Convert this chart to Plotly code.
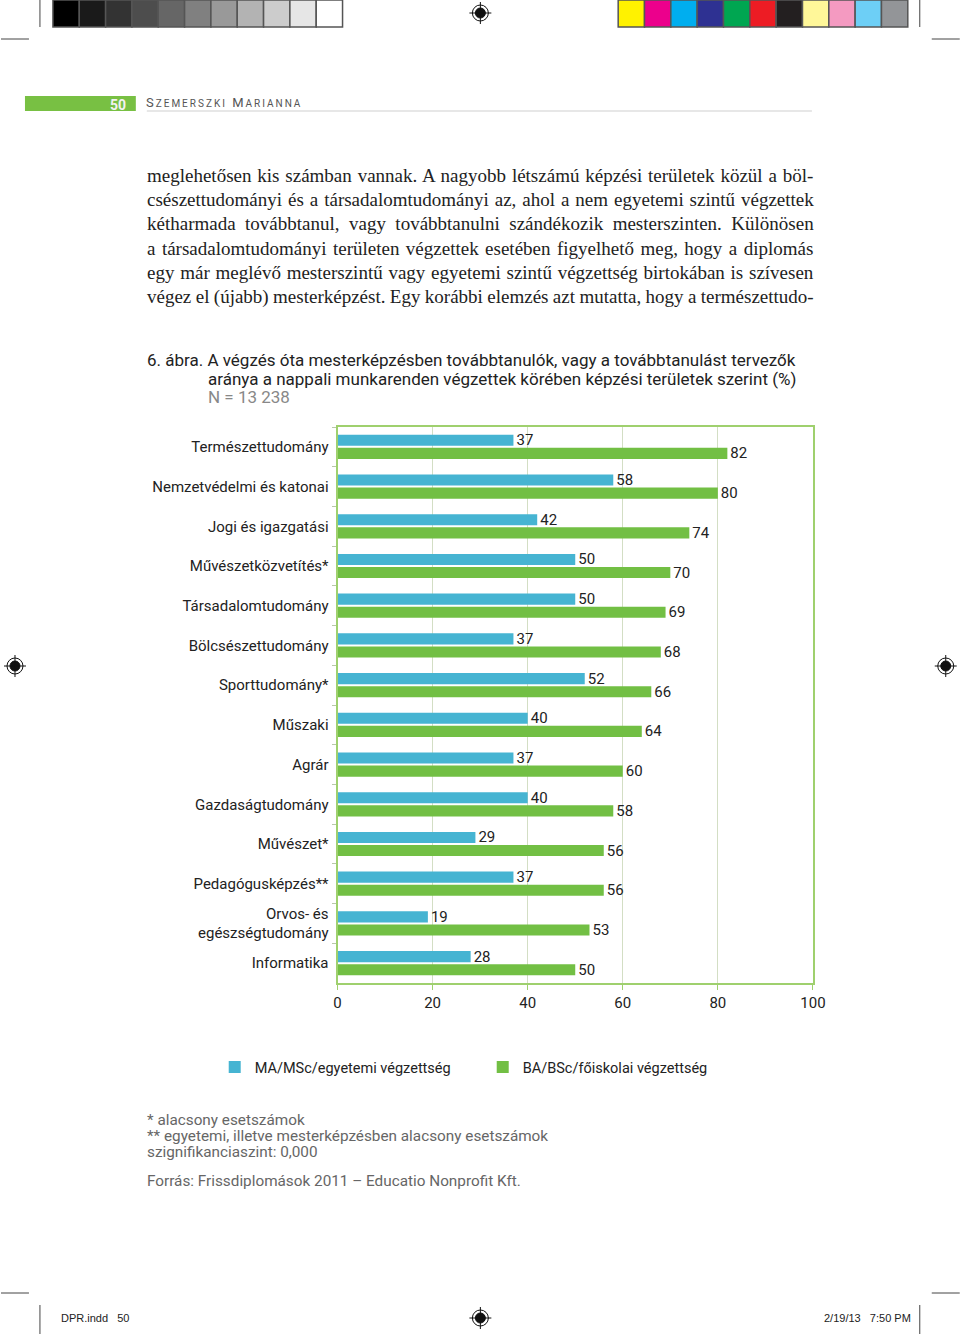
import plotly.graph_objects as go

W, H = 960, 1334

categories = [
    "Természettudomány", "Nemzetvédelmi és katonai", "Jogi és igazgatási",
    "Művészetközvetítés*", "Társadalomtudomány", "Bölcsészettudomány",
    "Sporttudomány*", "Műszaki", "Agrár", "Gazdaságtudomány", "Művészet*",
    "Pedagógusképzés**", "Orvos- és<br>egészségtudomány", "Informatika",
]
ma_values = [37, 58, 42, 50, 50, 37, 52, 40, 37, 40, 29, 37, 19, 28]
ba_values = [82, 80, 74, 70, 69, 68, 66, 64, 60, 58, 56, 56, 53, 50]
series_names = ["MA/MSc/egyetemi végzettség", "BA/BSc/főiskolai végzettség"]
x_ticks = [0, 20, 40, 60, 80, 100]

body_lines = [
    "meglehetősen kis számban vannak. A nagyobb létszámú képzési területek közül a böl-",
    "csészettudományi és a társadalomtudományi az, ahol a nem egyetemi szintű végzettek",
    "kétharmada továbbtanul, vagy továbbtanulni szándékozik mesterszinten. Különösen",
    "a társadalomtudományi területen végzettek esetében figyelhető meg, hogy a diplomás",
    "egy már meglévő mesterszintű vagy egyetemi szintű végzettség birtokában is szívesen",
    "végez el (újabb) mesterképzést. Egy korábbi elemzés azt mutatta, hogy a természettudo-",
]
# extra word spacing (px) so each line is justified to the text block width
body_word_spacing = [1.1, 1.2, 4.7, 1.7, 1.0, -0.35]
notes = [
    "* alacsony esetszámok",
    "** egyetemi, illetve mesterképzésben alacsony esetszámok",
    "szignifikanciaszint: 0,000",
]
source = "Forrás: Frissdiplomások 2011 – Educatio Nonprofit Kft."

gray_swatches = ["#000000", "#1a1a1a", "#333333", "#4d4d4d", "#666666", "#808080",
                 "#999999", "#b3b3b3", "#cccccc", "#e6e6e6", "#ffffff"]
color_swatches = ["#fff200", "#ec008c", "#00aeef", "#2e3192", "#00a651", "#ed1c24",
                  "#231f20", "#fff799", "#f49ac1", "#6dcff6", "#939598"]

BLUE = "#46b4d2"
GREEN = "#72bf44"
FRAME = "#9fd06e"
GRID = "#d3dec4"
CHART_FONT = "Roboto"

# the photographed page comes out slightly squeezed horizontally; undo that
SX, OX = 0.9836, 3


def px(x):
    return (x - OX) / SX / W


def py(y):
    return 1 - y / H


fig = go.Figure()
for name, vals, col in [(series_names[0], ma_values, BLUE), (series_names[1], ba_values, GREEN)]:
    fig.add_trace(go.Bar(
        y=categories, x=vals, name=name, orientation="h",
        marker=dict(color=col, line=dict(width=0)),
        text=vals, textposition="outside", cliponaxis=False, constraintext="none",
        textfont=dict(family=CHART_FONT, size=15, color="#222"),
    ))

fig.update_layout(
    width=W, height=H, autosize=False,
    margin=dict(l=0, r=0, t=0, b=0),
    paper_bgcolor="white", plot_bgcolor="white",
    barmode="group", bargap=0.34, bargroupgap=0.15,
    font=dict(family=CHART_FONT, size=15, color="#222"),
    showlegend=True,
    legend=dict(orientation="h", x=px(214), xanchor="left", y=py(1067), yanchor="middle",
                entrywidth=223, entrywidthmode="pixels", traceorder="normal",
                font=dict(family=CHART_FONT, size=14.5, color="#222")),
)
fig.update_xaxes(
    domain=[px(337), px(813)], range=[0, 100], tickvals=x_ticks,
    showgrid=True, gridcolor=GRID, gridwidth=1, zeroline=False,
    showline=True, linecolor=FRAME, linewidth=2, mirror=True,
    ticks="outside", ticklen=5, tickcolor=FRAME,
    tickfont=dict(family=CHART_FONT, size=15, color="#222"),
)
fig.update_yaxes(
    domain=[py(983), py(427)], autorange="reversed", type="category",
    showline=True, linecolor=FRAME, linewidth=2, mirror=True,
    ticks="outside", ticklen=4, tickcolor="#b8c8a8", tickson="boundaries",
    ticklabelstandoff=4,
    tickfont=dict(family=CHART_FONT, size=15, color="#222"),
)

shapes = []
ann = []

# printer colour bars
sw = (342 - 52) / len(gray_swatches)
for i, c in enumerate(gray_swatches):
    shapes.append(dict(type="rect", xref="paper", yref="paper", x0=px(52 + i * sw), x1=px(52 + (i + 1) * sw),
                       y0=py(27), y1=py(0), fillcolor=c, line=dict(color="#555", width=1.5)))
sw = (908 - 618) / len(color_swatches)
for i, c in enumerate(color_swatches):
    shapes.append(dict(type="rect", xref="paper", yref="paper", x0=px(618 + i * sw), x1=px(618 + (i + 1) * sw),
                       y0=py(27), y1=py(0), fillcolor=c, line=dict(color="#555", width=1.5)))

# crop marks
for x0, x1, y in [(0, 28, 39), (932, 960, 39), (0, 28, 1293), (932, 960, 1293)]:
    shapes.append(dict(type="line", xref="paper", yref="paper", x0=px(x0), x1=px(x1), y0=py(y), y1=py(y),
                       line=dict(color="#444", width=1)))
for x, y0, y1 in [(39, 0, 27), (920, 0, 27), (39, 1305, 1334), (920, 1305, 1334)]:
    shapes.append(dict(type="line", xref="paper", yref="paper", x0=px(x), x1=px(x), y0=py(y0), y1=py(y1),
                       line=dict(color="#444", width=1)))

# registration marks
for cx, cy in [(480, 13), (14, 666), (946, 666), (480, 1318)]:
    shapes.append(dict(type="circle", xref="paper", yref="paper", x0=px(cx - 8), x1=px(cx + 8),
                       y0=py(cy + 8), y1=py(cy - 8), line=dict(color="#111", width=1)))
    shapes.append(dict(type="circle", xref="paper", yref="paper", x0=px(cx - 5), x1=px(cx + 5),
                       y0=py(cy + 5), y1=py(cy - 5), fillcolor="#111", line=dict(color="#111", width=1)))
    shapes.append(dict(type="line", xref="paper", yref="paper", x0=px(cx - 11), x1=px(cx + 11),
                       y0=py(cy), y1=py(cy), line=dict(color="#111", width=1)))
    shapes.append(dict(type="line", xref="paper", yref="paper", x0=px(cx), x1=px(cx),
                       y0=py(cy - 11), y1=py(cy + 11), line=dict(color="#111", width=1)))

# running head
shapes.append(dict(type="rect", xref="paper", yref="paper", x0=px(24), x1=px(135), y0=py(111), y1=py(96),
                   fillcolor="#78c043", line=dict(width=0)))
shapes.append(dict(type="line", xref="paper", yref="paper", x0=px(146), x1=px(812), y0=py(111), y1=py(111),
                   line=dict(color="#cfcfcf", width=1)))
ann.append(dict(text="<b>50</b>", x=px(127), y=py(105), xanchor="right", yanchor="middle",
                font=dict(family=CHART_FONT, size=14, color="#f2f2f2")))
ann.append(dict(text="<span style='letter-spacing:2px'>S<span style='font-size:10px'>ZEMERSZKI</span>"
                     " M<span style='font-size:10px'>ARIANNA</span></span>",
                x=px(143), y=py(102), xanchor="left", yanchor="middle",
                font=dict(family=CHART_FONT, size=13, color="#555")))

# body text
for i, line in enumerate(body_lines):
    ann.append(dict(text="<span style='word-spacing:%.2fpx'>%s</span>" % (body_word_spacing[i], line),
                    x=px(144), y=py(175 + i * 24.4), xanchor="left", yanchor="middle",
                    font=dict(family="Liberation Serif", size=19, color="#222")))

# figure title
ann.append(dict(text="6. ábra. A végzés óta mesterképzésben továbbtanulók, vagy a továbbtanulást tervezők",
                x=px(144), y=py(360), xanchor="left", yanchor="middle",
                font=dict(family=CHART_FONT, size=17, color="#222")))
ann.append(dict(text="aránya a nappali munkarenden végzettek körében képzési területek szerint (%)",
                x=px(205), y=py(379), xanchor="left", yanchor="middle",
                font=dict(family=CHART_FONT, size=17, color="#222")))
ann.append(dict(text="N = 13 238", x=px(205), y=py(397), xanchor="left", yanchor="middle",
                font=dict(family=CHART_FONT, size=17, color="#888")))

# notes and source
for i, line in enumerate(notes):
    ann.append(dict(text=line, x=px(144), y=py(1120 + i * 15.8), xanchor="left", yanchor="middle",
                    font=dict(family=CHART_FONT, size=15.3, color="#666")))
ann.append(dict(text=source, x=px(144), y=py(1181), xanchor="left", yanchor="middle",
                font=dict(family=CHART_FONT, size=15.3, color="#666")))

# slug line
ann.append(dict(text="DPR.indd   50", x=px(58), y=py(1318), xanchor="left", yanchor="middle",
                font=dict(family="Liberation Sans", size=11, color="#222")))
ann.append(dict(text="2/19/13   7:50 PM", x=px(913), y=py(1318), xanchor="right", yanchor="middle",
                font=dict(family="Liberation Sans", size=11, color="#222")))

for a in ann:
    a.update(xref="paper", yref="paper", showarrow=False)

fig.update_layout(shapes=shapes, annotations=ann)
fig.write_html(
    "out.html",
    config={"displayModeBar": False, "responsive": False},
    post_script="document.documentElement.style.overflow='hidden';"
                "document.body.style.margin='0';document.body.style.overflow='hidden';",
)
